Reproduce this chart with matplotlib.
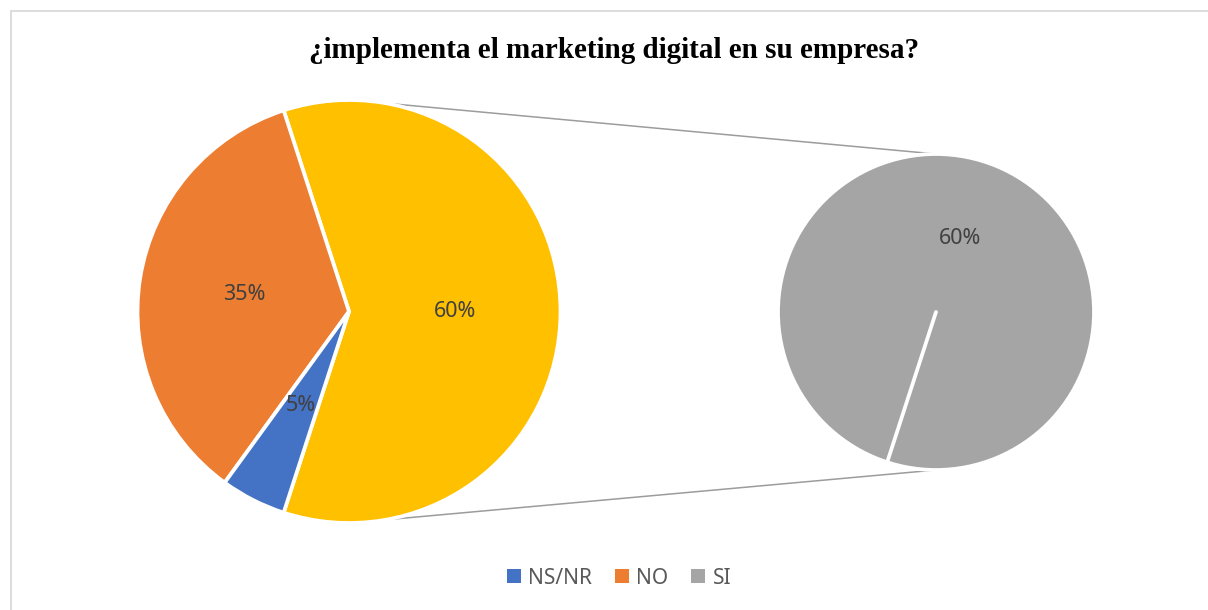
import matplotlib
matplotlib.use('Agg')
import numpy as np
import matplotlib.pyplot as plt
from matplotlib.patches import Patch, Rectangle

# survey answers; the last category is split out into the secondary pie
categories = ['NS/NR', 'NO', 'SI']
values = [5, 35, 60]
colors = ['#4472C4', '#ED7D31', '#A5A5A5']
other_color = '#FFC000'
title = '¿implementa el marketing digital en su empresa?'

W, H = 1208, 610
fig = plt.figure(figsize=(W / 100, H / 100), dpi=100)
ax = fig.add_axes([0, 0, 1, 1])

total = sum(values)
split = values[2:]
other = sum(split)

# "other" wedge is centred on 3 o'clock, as in a pie-of-pie chart
start = -180.0 * other / total

main_vals = [other, values[1], values[0]]
main_cols = [other_color, colors[1], colors[0]]

label_kw = dict(color='#404040', fontsize=15.5, family='Noto Sans')
edge_kw = dict(edgecolor='white', linewidth=2.7)

c1, r1 = (349, 298.5), 211.5
c2, r2 = (936, 298), 158

ax.pie(main_vals, colors=main_cols, startangle=start, counterclock=True,
       center=c1, radius=r1, wedgeprops=edge_kw,
       autopct=lambda p: f'{p:.0f}%', pctdistance=0.5, textprops=label_kw)

ax.pie(split, colors=colors[2:], startangle=start, counterclock=True,
       center=c2, radius=r2, wedgeprops=edge_kw,
       autopct=lambda p: f'{p * other / total:.0f}%', pctdistance=0.49,
       textprops=label_kw)

# seam of the single-slice secondary pie
a = np.deg2rad(start)
ax.plot([c2[0], c2[0] + r2 * np.cos(a)], [c2[1], c2[1] + r2 * np.sin(a)],
        color='white', lw=2.7, solid_capstyle='round')

# connector lines between the two pies
for sgn in (1, -1):
    t = np.deg2rad(80 * sgn)
    x0, y0 = c1[0] + r1 * np.cos(t), c1[1] + r1 * np.sin(t)
    x1, y1 = c2[0], c2[1] + sgn * r2
    ax.plot([x0, x1], [y0, y1], color='#9c9c9c', lw=1.1, zorder=0)

# chart area border
ax.add_patch(Rectangle((10.5, -20), W + 40, H - 11 + 20, fill=False,
                       edgecolor='#d9d9d9', lw=1.3))

ax.set_xlim(0, W)
ax.set_ylim(0, H)
ax.set_aspect('equal')
ax.axis('off')

fig.text(614 / W, 1 - 51 / H, title, ha='center', va='center',
         family='Liberation Serif', weight='bold', fontsize=21)

handles = [Patch(facecolor=c) for c in colors]
fig.legend(handles, categories, loc='center', bbox_to_anchor=(619 / W, 1 - 578 / H),
           ncol=3, frameon=False, handlelength=0.68, handleheight=0.68,
           handletextpad=0.35, columnspacing=1.1, labelcolor='#595959',
           prop=dict(family='Noto Sans', size=15))

fig.savefig('out.png', dpi=100, facecolor='white')
